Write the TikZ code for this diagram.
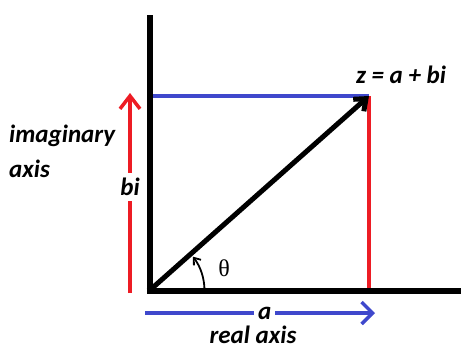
\documentclass[tikz,border=0pt]{standalone}
\usepackage{fontspec}
\setmainfont{Carlito}
\newfontfamily\thetafont{Liberation Serif}
\usetikzlibrary{arrows.meta}
\definecolor{paintred}{RGB}{237,28,36}
\definecolor{paintblue}{RGB}{63,72,204}
\tikzset{
  axisline/.style={line width=6pt},
  redline/.style={draw=paintred, line width=3.5pt},
  blueline/.style={draw=paintblue, line width=3.5pt},
  lbl/.style={font=\fontsize{25}{30}\selectfont\bfseries\itshape, inner sep=1pt},
}
\begin{document}
\begin{tikzpicture}[x=1pt,y=-1pt]
\useasboundingbox (0,0) rectangle (461,349);
\coordinate (O) at (149.5,290.5);
\coordinate (Ytop) at (149.5,15);
\coordinate (Xend) at (461,290.5);
\coordinate (Z) at (369,96);
\coordinate (Zfoot) at (369,290.5);
\coordinate (Zleft) at (149.5,96);
\coordinate (bibot) at (130,293);
\coordinate (bitop) at (130,93);
\coordinate (abeg) at (145,313);
\coordinate (aend) at (375,313);
\draw[blueline] (Zleft) -- (Z);
\draw[redline] (Zfoot) -- (Z);
\draw[axisline] (149.5,293.5) -- (Ytop);
\draw[axisline] (146.5,290.5) -- (Xend);
\draw[line width=5pt, -{Straight Barb[length=10pt,width=16pt]}] (O) -- (Z);
\draw[line width=1.8pt, -{Straight Barb[length=6pt,width=9pt]}] ([shift={(0:55)}]O) arc[start angle=0, end angle=-38, radius=55];
\draw[redline, -{Straight Barb[length=13pt,width=20pt]}] (bibot) -- (bitop)
  node[pos=0.53, lbl, fill=white, inner ysep=5pt] (bilabel) {bi};
\draw[blueline, -{Straight Barb[length=11pt,width=22pt]}] (abeg) -- (aend)
  node[pos=0.52, lbl, fill=white, inner xsep=4pt] (alabel) {a};
\node[lbl, align=left, anchor=north west] (imlabel) at (8,124) {imaginary\\[5pt]axis};
\node[lbl] (zlabel) at (401,75) {z = a + bi};
\node[lbl] (relabel) at (253,335) {real axis};
\node[font=\fontsize{24}{28}\selectfont\thetafont] (thlabel) at (224,268) {θ};
\end{tikzpicture}
\end{document}
